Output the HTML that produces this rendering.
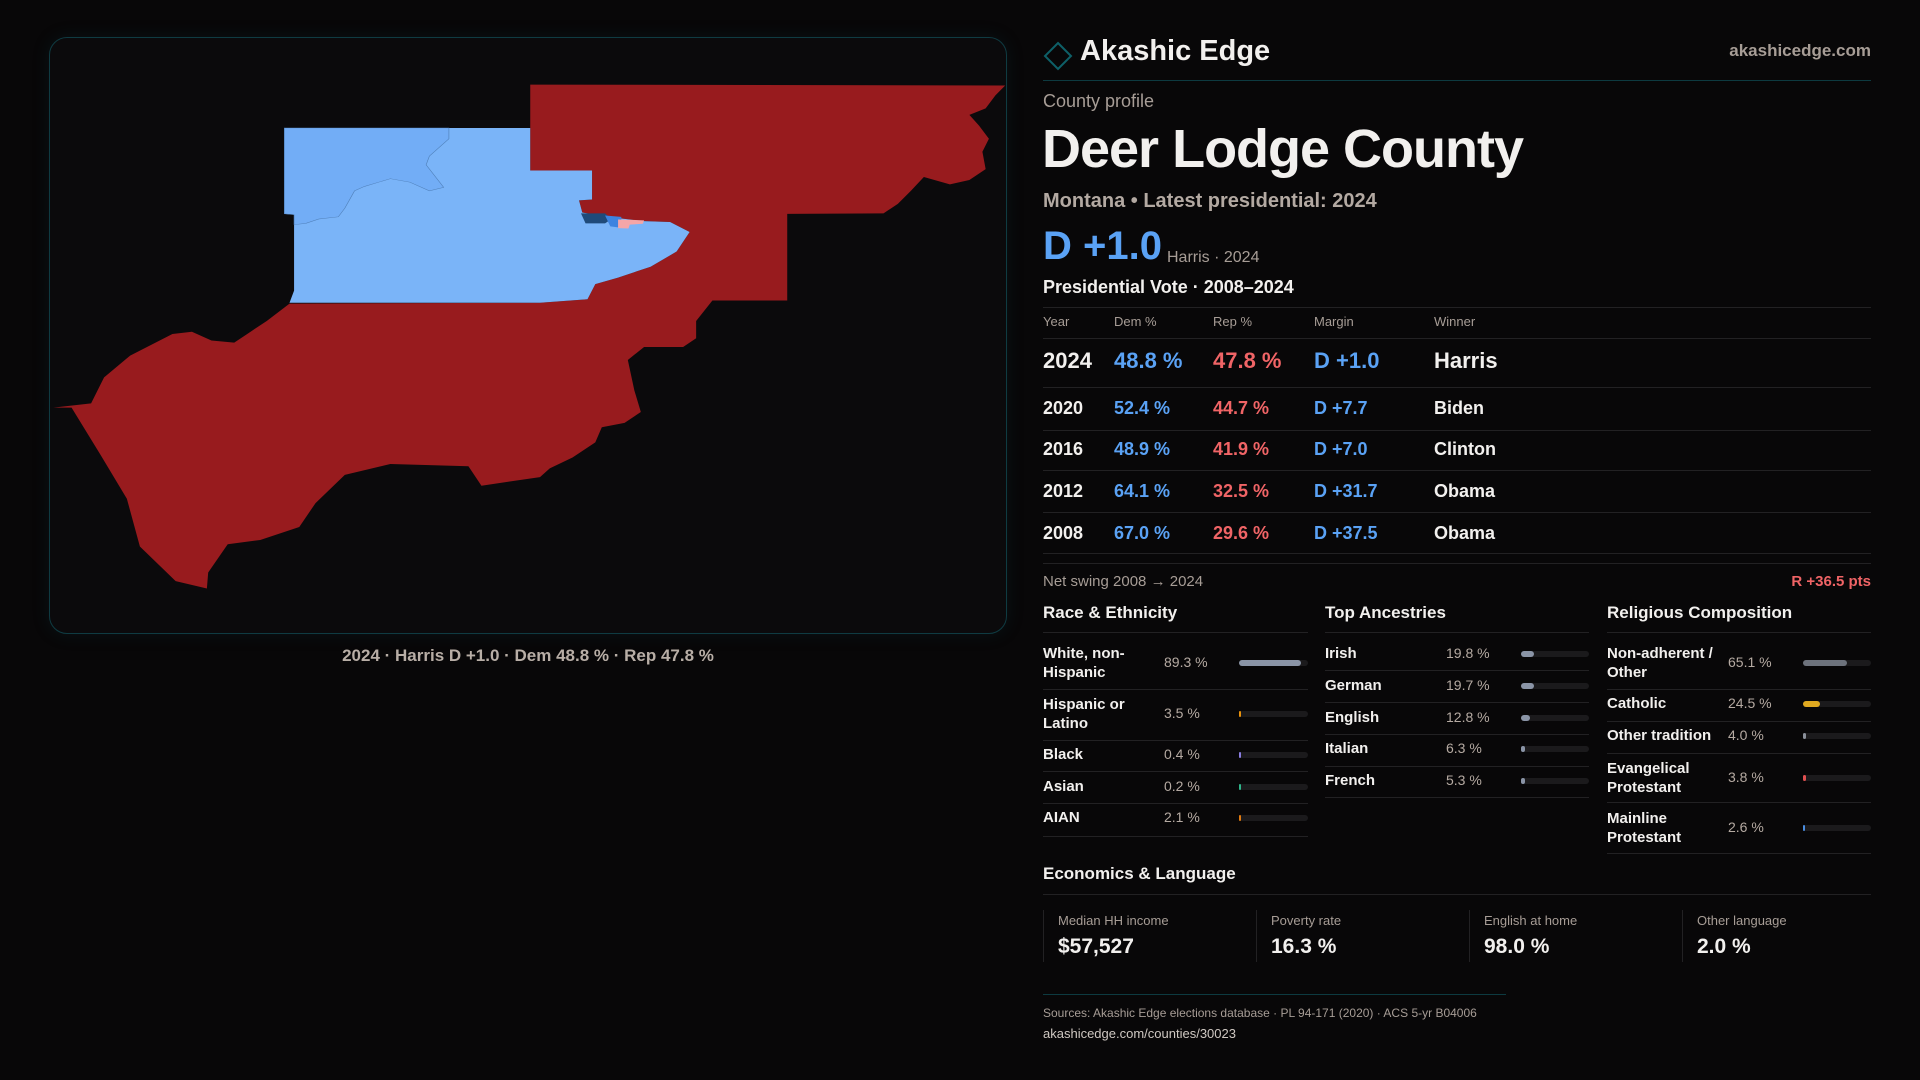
<!DOCTYPE html>
<html><head><meta charset="utf-8">
<style>
*{margin:0;padding:0;box-sizing:border-box}
body{width:1920px;height:1080px;background:#080708;font-family:"Liberation Sans",sans-serif;color:#f2f0ee;position:relative;overflow:hidden}
.a{position:absolute;white-space:nowrap}
.mut{color:#a79d96}
.blue{color:#5aa2f5}.red{color:#f06466}
.hl{position:absolute;height:1px;background:#222123}
#map-panel{position:absolute;left:49px;top:37px;width:958px;height:597px;border:1px solid #0f3b42;border-radius:18px;background:#0b0a0c;box-shadow:0 0 18px rgba(20,90,100,.15);overflow:hidden}
.row-lab{font-size:15px;font-weight:bold;line-height:19px}
.val{font-size:14px;color:#b5aaa2}
.track{position:absolute;height:6px;border-radius:3px;background:#1b1a1c}
.fill{position:absolute;left:0;top:0;height:6px;border-radius:3px}
</style></head><body>
<div id="map-panel">
<svg width="958" height="597" viewBox="0 0 958 597" style="position:absolute;left:-1px;top:-1px">
<g transform="translate(-49,-37) scale(0.6506,0.4337)">
<polygon fill="#981b1e" points="815,195 1545,197 1530,220 1515,250 1490,265 1505,290 1520,320 1510,350 1515,390 1490,415 1460,425 1420,408 1400,440 1380,470 1358,492 1210,493 1210,693 1095,693 1070,740 1070,780 1050,800 990,800 965,830 975,900 985,950 960,975 925,985 915,1020 880,1055 845,1080 830,1100 740,1120 720,1075 600,1070 530,1095 485,1160 460,1215 400,1245 350,1255 320,1320 318,1357 270,1340 215,1260 195,1150 155,1050 110,940 82,940 140,930 160,870 200,820 265,770 295,765 325,785 360,790 380,770 410,740 445,700 830,698 903,690 915,655 950,640 1000,615 1040,580 1060,535 1030,512 990,510 935,500 895,490 890,462 910,460 910,393 815,393"/>
<polygon fill="#7ab4f8" points="437,295 815,295 815,393 910,393 910,460 890,462 895,490 935,500 990,510 1030,512 1060,535 1040,580 1000,615 950,640 915,655 903,690 830,698 445,698 452,670 452,495 437,493"/>
<polygon fill="#72adf6" stroke="#4f7fb8" stroke-width="1" points="437,295 690,295 690,320 660,360 655,380 682,432 660,440 630,420 600,412 560,430 545,440 530,480 520,500 490,505 470,515 452,518 452,495 437,493"/>
<polygon fill="#1f4a7a" points="893,492 930,492 940,505 930,515 900,515"/>
<polygon fill="#3d83e0" points="930,497 955,500 955,525 938,522"/>
<polygon fill="#f4a6a8" points="950,506 990,508 988,516 968,518 966,527 950,526"/>
</g></svg>
</div>
<div class="a mut" style="left:49px;width:958px;text-align:center;top:646px;font-size:17px;font-weight:bold;color:#b8aea6">2024 · Harris D +1.0 · Dem 48.8 % · Rep 47.8 %</div>

<svg class="a" style="left:1043px;top:41px" width="30" height="30"><polygon points="15,2 28,15 15,28 2,15" fill="none" stroke="#0e6068" stroke-width="2"/></svg>
<div class="a" style="left:1080px;top:35px;font-size:29px;font-weight:bold">Akashic Edge</div>
<div class="a mut" style="right:49px;top:41px;font-size:17px;font-weight:bold;color:#a79d96">akashicedge.com</div>
<div class="hl" style="left:1043px;width:828px;top:80px;background:#0d3a40"></div>
<div class="a mut" style="left:1043px;top:91px;font-size:18px">County profile</div>
<div class="a" style="left:1042px;top:118px;font-size:54px;font-weight:bold;letter-spacing:-1px">Deer Lodge County</div>
<div class="a mut" style="left:1043px;top:190px;font-size:20px;font-weight:bold;color:#b3a9a2">Montana • Latest presidential: 2024</div>
<div class="a blue" style="left:1043px;top:224px;font-size:40px;font-weight:bold">D +1.0</div>
<div class="a mut" style="left:1167px;top:249px;font-size:16px">Harris · 2024</div>
<div class="a" style="left:1043px;top:277px;font-size:18px;font-weight:bold">Presidential Vote · 2008–2024</div>
<div id="vote-table"></div>
<div class="hl" style="left:1043px;width:828px;top:563px"></div>
<div class="a mut" style="left:1043px;top:573px;font-size:15px">Net swing 2008 → 2024</div>
<div class="a red" style="right:49px;top:573px;font-size:15px;font-weight:bold">R +36.5 pts</div>
<div id="demo"></div>

<div class="a" style="left:1043px;top:864px;font-size:17px;font-weight:bold">Economics &amp; Language</div>
<div class="hl" style="left:1043px;width:828px;top:894px"></div>
<div id="econ"></div>
<div class="hl" style="left:1043px;width:463px;top:994px;background:#0d3a40"></div>
<div class="a mut" style="left:1043px;top:1006px;font-size:12px">Sources: Akashic Edge elections database · PL 94-171 (2020) · ACS 5-yr B04006</div>
<div class="a" style="left:1043px;top:1026px;font-size:13px;color:#cfc8c2">akashicedge.com/counties/30023</div>

<script>
const years=["2024","2020","2016","2012","2008"];
const demPct=[48.8,52.4,48.9,64.1,67.0];
const repPct=[47.8,44.7,41.9,32.5,29.6];
const margins=["D +1.0","D +7.7","D +7.0","D +31.7","D +37.5"];
const winners=["Harris","Biden","Clinton","Obama","Obama"];
const raceLabels=["White, non-\nHispanic","Hispanic or\nLatino","Black","Asian","AIAN"];
const raceValues=[89.3,3.5,0.4,0.2,2.1];
const raceColors=["#8a94a6","#e8910c","#8a7de0","#2fb58a","#e07a10"];
const ancLabels=["Irish","German","English","Italian","French"];
const ancValues=[19.8,19.7,12.8,6.3,5.3];
const relLabels=["Non-adherent /\nOther","Catholic","Other tradition","Evangelical\nProtestant","Mainline\nProtestant"];
const relValues=[65.1,24.5,4.0,3.8,2.6];
const relColors=["#6d727c","#e0a920","#8a8f99","#e05050","#4a8de0"];
const econLabels=["Median HH income","Poverty rate","English at home","Other language"];
const econValues=["$57,527","16.3 %","98.0 %","2.0 %"];

function div(parent,css,text){const d=document.createElement('div');d.className='a';d.style.cssText=css;if(text!==undefined)d.textContent=text;parent.appendChild(d);return d;}
const T=document.getElementById('vote-table');
const hdr=["Year","Dem %","Rep %","Margin","Winner"];const colX=[1043,1114,1213,1314,1434];
const hl=(p,top,l,w)=>{const d=document.createElement('div');d.className='hl';d.style.cssText=`left:${l}px;width:${w}px;top:${top}px`;p.appendChild(d);return d;};
hl(T,307,1043,828);
hdr.forEach((h,i)=>{const d=div(T,`left:${colX[i]}px;top:314px;font-size:13px;color:#a79d96`,h);

});
hl(T,338,1043,828);
const rowY=[348,396,437,479,521];const lineY=[387,430,470,512,553];
years.forEach((y,i)=>{const fs=i===0?22:18;
const cells=[[y,'#f2f0ee'],[demPct[i].toFixed(1)+' %','#5aa2f5'],[repPct[i].toFixed(1)+' %','#f06466'],[margins[i],'#5aa2f5'],[winners[i],'#f2f0ee']];
cells.forEach((c,j)=>{const d=div(T,`left:${colX[j]}px;top:${rowY[i]+(i===0?0:2)}px;font-size:${fs}px;font-weight:bold;color:${c[1]}`,c[0]);

});
hl(T,lineY[i],1043,828);});

const D=document.getElementById('demo');
function section(title,x,w,labels,values,colors,ys,lines,valX){
const t=div(D,`left:${x}px;top:603px;font-size:17px;font-weight:bold`,title);


hl(D,632,x,w);
labels.forEach((l,i)=>{const lab=div(D,`left:${x}px;top:${ys[i]-(l.includes('\n')?19:10)}px;white-space:pre`,l);lab.className='a row-lab';


const v=div(D,`left:${valX}px;top:${ys[i]-9}px`,values[i].toFixed(1)+' %');v.className='a val';


const tr=document.createElement('div');tr.className='track';tr.style.cssText=`left:${valX+75}px;top:${ys[i]-3}px;width:${x+w-valX-75}px`;


const f=document.createElement('div');f.className='fill';const tw=x+w-valX-75;f.style.width=Math.max(2,tw*values[i]/100)+'px';f.style.background=colors[i];


tr.appendChild(f);D.appendChild(tr);hl(D,lines[i],x,w);});}
section("Race & Ethnicity",1043,265,raceLabels,raceValues,raceColors,[663,714,755,787,818],[689,740,771,803,836],1164);
section("Top Ancestries",1325,264,ancLabels,ancValues,ancValues.map(()=>"#8a94a6"),[654,686,718,749,781],[670,702,734,766,797],1446);
section("Religious Composition",1607,264,relLabels,relValues,relColors,[663,704,736,778,828],[689,721,753,802,853],1728);

const E=document.getElementById('econ');
econLabels.forEach((l,i)=>{const x=1043+i*213;
const b=div(E,`left:${x}px;top:910px;width:1px;height:52px;background:#222123`);


const a=div(E,`left:${x+15}px;top:913px;font-size:13px;color:#a79d96`,l);


const v=div(E,`left:${x+15}px;top:935px;font-size:21px;font-weight:bold`,econValues[i]);

});
</script>
</body></html>
